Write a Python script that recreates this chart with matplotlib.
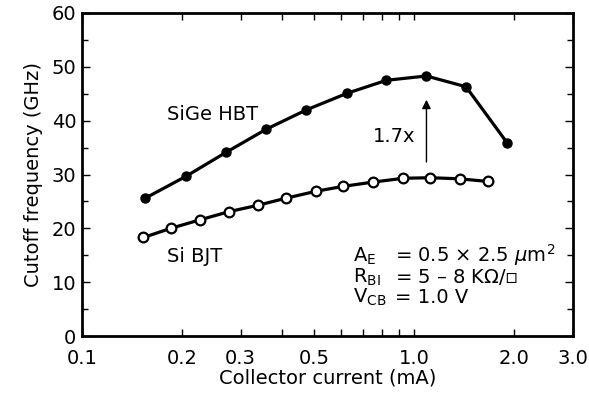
import matplotlib
matplotlib.use("Agg")
import matplotlib.pyplot as plt
from matplotlib.ticker import FixedLocator, NullFormatter

plt.rcParams["font.family"] = ["DejaVu Sans"]
plt.rcParams["mathtext.fontset"] = "dejavusans"

# SiGe HBT (filled circles)
sige_ic = [0.155, 0.206, 0.271, 0.358, 0.473, 0.628, 0.824, 1.087, 1.43, 1.90]
sige_ft = [25.6, 29.7, 34.1, 38.4, 42.0, 45.1, 47.5, 48.3, 46.3, 35.9]

# Si BJT (open circles)
si_ic = [0.153, 0.185, 0.227, 0.277, 0.339, 0.411, 0.507, 0.611, 0.753, 0.927, 1.117, 1.367, 1.67]
si_ft = [18.3, 20.0, 21.6, 23.1, 24.3, 25.6, 26.9, 27.8, 28.6, 29.3, 29.4, 29.2, 28.7]

x_major = [0.1, 0.2, 0.3, 0.5, 1.0, 2.0, 3.0]
x_major_labels = ["0.1", "0.2", "0.3", "0.5", "1.0", "2.0", "3.0"]
x_minor = [0.4, 0.6, 0.7, 0.8, 0.9]

FS = 14

fig = plt.figure(figsize=(5.89, 3.96), dpi=100)
ax = fig.add_axes([82 / 589, 60 / 396, 491 / 589, 323 / 396])

ax.plot(sige_ic, sige_ft, color="black", linewidth=2.3, marker="o",
        markersize=6.5, markerfacecolor="black", markeredgecolor="black", zorder=3)
ax.plot(si_ic, si_ft, color="black", linewidth=2.3, marker="o",
        markersize=7, markerfacecolor="white", markeredgecolor="black",
        markeredgewidth=1.6, zorder=3)

ax.set_xscale("log")
ax.set_xlim(0.1, 3.0)
ax.set_ylim(0, 60)
ax.xaxis.set_major_locator(FixedLocator(x_major))
ax.set_xticklabels(x_major_labels)
ax.xaxis.set_minor_locator(FixedLocator(x_minor))
ax.xaxis.set_minor_formatter(NullFormatter())
ax.set_yticks(range(0, 61, 10))
ax.set_yticks(range(5, 60, 10), minor=True)

ax.tick_params(which="both", direction="in", top=True, right=True, labelsize=FS)
ax.tick_params(axis="x", which="both", length=5, width=1.0, pad=9)
ax.tick_params(axis="y", which="major", length=5.5, width=1.0, pad=4)
ax.tick_params(axis="y", which="minor", length=4, width=1.0)
for sp in ax.spines.values():
    sp.set_linewidth(2.0)

ax.set_xlabel("Collector current (mA)", fontsize=FS, labelpad=1)
ax.set_ylabel("Cutoff frequency (GHz)", fontsize=FS, labelpad=6)

ax.text(0.180, 41.1, "SiGe HBT", fontsize=FS, va="center", ha="left")
ax.text(0.180, 14.7, "Si BJT", fontsize=FS, va="center", ha="left")
ax.text(1.007, 37.0, "1.7x", fontsize=FS, va="center", ha="right")
ax.annotate("", xy=(1.087, 44.4), xytext=(1.087, 31.8),
            arrowprops=dict(arrowstyle="-|>", color="black", lw=1.0,
                            mutation_scale=13))

# device parameters
tx = 0.655
te = 0.877
ax.text(tx, 13.75, r"A$_\mathrm{E}$", fontsize=FS, va="baseline")
ax.text(te, 13.75, r"= 0.5 $\times$ 2.5 $\mathit{\mu}$m$^2$", fontsize=FS, va="baseline")
ax.text(tx, 9.9, r"R$_\mathrm{BI}$", fontsize=FS, va="baseline")
ax.text(te, 9.9, "= 5 – 8 K$\\mathit{\\Omega}$/\u25ab", fontsize=FS, va="baseline")
ax.text(tx, 6.1, r"V$_\mathrm{CB}$", fontsize=FS, va="baseline")
ax.text(te, 6.1, "= 1.0 V", fontsize=FS, va="baseline")

fig.savefig("out.png", dpi=100)
